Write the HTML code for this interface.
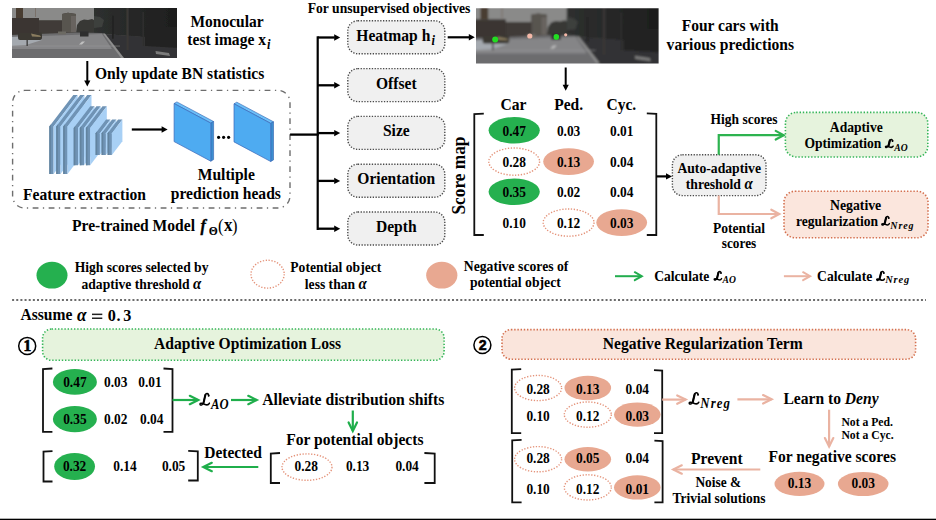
<!DOCTYPE html>
<html><head><meta charset="utf-8"><style>
html,body{margin:0;padding:0;background:#fff;overflow:hidden}
svg{display:block}
</style></head><body>
<svg width="936" height="520" viewBox="0 0 936 520" font-family='"Liberation Serif", serif'>
<rect width="936" height="520" fill="#fff"/>
<defs>
<filter id="blur" x="-5%" y="-5%" width="110%" height="110%"><feGaussianBlur stdDeviation="0.75"/></filter>
<linearGradient id="sky" x1="0" y1="0" x2="1" y2="0"><stop offset="0" stop-color="#8a8a8a"/><stop offset="0.8" stop-color="#989898"/><stop offset="1" stop-color="#8c8c8c"/></linearGradient>
<linearGradient id="road" x1="0" y1="0" x2="0" y2="1"><stop offset="0" stop-color="#78787a"/><stop offset="1" stop-color="#676769"/></linearGradient>
<linearGradient id="trees" x1="0" y1="0" x2="1" y2="0"><stop offset="0" stop-color="#2e302f"/><stop offset="1" stop-color="#1d1d1d"/></linearGradient>
<clipPath id="pc"><rect x="0" y="0" width="165" height="50"/></clipPath>
<g id="scene">
<g clip-path="url(#pc)">
<g filter="url(#blur)">
<rect x="-2" y="-2" width="170" height="55" fill="#2a2b2a"/>
<rect x="-2" y="-2" width="92" height="30" fill="#8a8a89"/>
<polygon points="-2,10 27,10 27,12.5 50,12.5 50,6 56,4.8 64,6 64,25 -2,31" fill="#3a3632"/>
<rect x="27" y="12.5" width="23" height="13" fill="#3f3b37"/>
<polygon points="50,6 56,4.8 64,6 64,24.5 50,24.5" fill="#595550"/>
<rect x="59" y="8" width="5" height="16" fill="#67635e"/>
<rect x="4" y="-2" width="7" height="12" fill="#4a3c32"/>
<rect x="23" y="-2" width="1" height="11" fill="#7a716a"/>
<polygon points="64,25 65,17 68,13 72,11.5 76,12 80,11 84,13 84,26" fill="#383836"/>
<polygon points="82,-2 167,-2 167,34 110,32 92,26 82,25" fill="url(#trees)"/>
<polygon points="82,8 88,9 92,12 90,19 82,20" fill="#3e3f3e"/>
<polygon points="-2,27 64,24.5 90,25 92,26 167,32 167,52 -2,52" fill="#6c6c6e"/>
<polygon points="28,28 90,26 100,41 -2,41 -2,33" fill="#858587"/>
<polygon points="-2,29 28,27.5 30,32 14,37 -2,38" fill="#a4a9af"/>
<polygon points="92,26 167,31 167,52 111,52" fill="#333334"/>
<polygon points="133,19 167,19 167,40 133,38" fill="#242424"/>
<polygon points="91,25.5 93,25.5 112,50 109,50" fill="#8e8e8e"/>
<polygon points="143.5,43 157,45 158,48 144,46" fill="#7a7a7a"/>
<rect x="100" y="7.7" width="1.8" height="23" fill="#242424"/>
<rect x="114.5" y="-2" width="2.2" height="44" fill="#3a3836"/>
<rect x="130.5" y="4" width="1.6" height="34" fill="#2e2e2e"/>
<rect x="6" y="24.5" width="24" height="7.5" rx="2" fill="#3a3733"/>
<polygon points="19,25.5 28,27.5 29,29 20,28.5" fill="#8a7c5e"/>
<rect x="46" y="23.5" width="8" height="3" fill="#6c6a64"/>
<rect x="68" y="23.5" width="8.5" height="5" fill="#2d2d2d"/>
<rect x="-2" y="37.6" width="110" height="0.9" fill="#9a9a9c" opacity="0.6"/>
<polygon points="70,33.6 73,33.6 70,36.5 67,36.5" fill="#c0c0c0"/>
<rect x="14.5" y="32" width="1.3" height="6" fill="#3a3a3a"/>
</g>
</g>
</g>
</defs>
<use href="#scene" transform="translate(12,8)"/>
<text x="190.5" y="26.7" font-size="15.5" text-anchor="start" font-weight="bold" font-style="normal" fill="#000"  transform="translate(0,26.7) scale(1,1.09) translate(0,-26.7)">Monocular</text>
<text x="187.3" y="45" font-size="15.6" text-anchor="start" font-weight="bold" font-style="normal" fill="#000"  transform="translate(0,45) scale(1,1.09) translate(0,-45)">test image x<tspan font-style="italic" font-size="12.5" dx="1" dy="3.4">i</tspan></text>
<line x1="87.3" y1="61" x2="87.3" y2="81.0" stroke="#000" stroke-width="2" />
<polygon points="87.30,86.50 84.20,80.50 90.40,80.50" fill="#000" />
<text x="95" y="79.5" font-size="15.6" text-anchor="start" font-weight="bold" font-style="normal" fill="#000"  transform="translate(0,79.5) scale(1,1.09) translate(0,-79.5)">Only update BN statistics</text>
<rect x="12.6" y="90.4" width="277.4" height="117.6" rx="12" ry="12" fill="none" stroke="#6e6e6e" stroke-width="1.4" stroke-dasharray="5.8 4.5 1.3 4.4"/>
<polygon points="49.30,174.00 49.30,126.40 73.30,94.96 77.60,94.96 53.60,126.40 53.60,174.00" fill="#6f93b5" />
<polygon points="49.30,174.00 49.30,126.40 50.90,124.30 50.90,174.00" fill="#62839f" />
<polygon points="53.60,174.00 53.60,126.40 77.60,94.96 77.60,142.56" fill="#a8d0f5" />
<polygon points="56.20,174.00 56.20,126.40 80.20,94.96 84.50,94.96 60.50,126.40 60.50,174.00" fill="#6f93b5" />
<polygon points="56.20,174.00 56.20,126.40 57.80,124.30 57.80,174.00" fill="#62839f" />
<polygon points="60.50,174.00 60.50,126.40 84.50,94.96 84.50,142.56" fill="#a8d0f5" />
<polygon points="63.20,174.00 63.20,126.40 87.20,94.96 91.50,94.96 67.50,126.40 67.50,174.00" fill="#6f93b5" />
<polygon points="63.20,174.00 63.20,126.40 64.80,124.30 64.80,174.00" fill="#62839f" />
<polygon points="67.50,174.00 67.50,126.40 91.50,94.96 91.50,142.56" fill="#a8d0f5" />
<polygon points="73.70,165.30 73.70,128.00 90.30,106.25 94.60,106.25 78.00,128.00 78.00,165.30" fill="#6f93b5" />
<polygon points="73.70,165.30 73.70,128.00 75.30,125.90 75.30,165.30" fill="#62839f" />
<polygon points="78.00,165.30 78.00,128.00 94.60,106.25 94.60,143.55" fill="#a8d0f5" />
<polygon points="79.80,165.30 79.80,128.00 96.40,106.25 100.70,106.25 84.10,128.00 84.10,165.30" fill="#6f93b5" />
<polygon points="79.80,165.30 79.80,128.00 81.40,125.90 81.40,165.30" fill="#62839f" />
<polygon points="84.10,165.30 84.10,128.00 100.70,106.25 100.70,143.55" fill="#a8d0f5" />
<polygon points="85.90,165.30 85.90,128.00 102.50,106.25 106.80,106.25 90.20,128.00 90.20,165.30" fill="#6f93b5" />
<polygon points="85.90,165.30 85.90,128.00 87.50,125.90 87.50,165.30" fill="#62839f" />
<polygon points="90.20,165.30 90.20,128.00 106.80,106.25 106.80,143.55" fill="#a8d0f5" />
<polygon points="95.60,155.00 95.60,133.30 106.10,119.55 110.40,119.55 99.90,133.30 99.90,155.00" fill="#6f93b5" />
<polygon points="95.60,155.00 95.60,133.30 97.20,131.20 97.20,155.00" fill="#62839f" />
<polygon points="99.90,155.00 99.90,133.30 110.40,119.55 110.40,141.25" fill="#a8d0f5" />
<polygon points="101.60,155.00 101.60,133.30 112.10,119.55 116.40,119.55 105.90,133.30 105.90,155.00" fill="#6f93b5" />
<polygon points="101.60,155.00 101.60,133.30 103.20,131.20 103.20,155.00" fill="#62839f" />
<polygon points="105.90,155.00 105.90,133.30 116.40,119.55 116.40,141.25" fill="#a8d0f5" />
<polygon points="107.60,155.00 107.60,133.30 118.10,119.55 122.40,119.55 111.90,133.30 111.90,155.00" fill="#6f93b5" />
<polygon points="107.60,155.00 107.60,133.30 109.20,131.20 109.20,155.00" fill="#62839f" />
<polygon points="111.90,155.00 111.90,133.30 122.40,119.55 122.40,141.25" fill="#a8d0f5" />
<line x1="131.8" y1="129.5" x2="162.1" y2="129.5" stroke="#000" stroke-width="2.2" />
<polygon points="167.60,129.50 161.60,132.70 161.60,126.30" fill="#000" />
<polygon points="174.10,103.50 176.90,101.90 213.60,121.50 210.80,123.10" fill="#6cc0f8" stroke="#3060b0" stroke-width="0.6"/>
<polygon points="210.80,123.10 213.60,121.50 213.60,159.60 210.80,161.20" fill="#3d8fd0" stroke="#3060b0" stroke-width="0.6"/>
<polygon points="174.10,103.50 210.80,123.10 210.80,161.20 174.10,141.60" fill="#4eabf1" stroke="#3a66b8" stroke-width="0.7"/>
<polygon points="234.00,103.80 236.80,102.20 273.50,121.80 270.70,123.40" fill="#6cc0f8" stroke="#3060b0" stroke-width="0.6"/>
<polygon points="270.70,123.40 273.50,121.80 273.50,159.90 270.70,161.50" fill="#3d8fd0" stroke="#3060b0" stroke-width="0.6"/>
<polygon points="234.00,103.80 270.70,123.40 270.70,161.50 234.00,141.90" fill="#4eabf1" stroke="#3a66b8" stroke-width="0.7"/>
<circle cx="218.6" cy="137.3" r="1.6" fill="#000"/>
<circle cx="223.6" cy="137.3" r="1.6" fill="#000"/>
<circle cx="228.6" cy="137.3" r="1.6" fill="#000"/>
<text x="197.7" y="180.5" font-size="15.6" text-anchor="start" font-weight="bold" font-style="normal" fill="#000"  transform="translate(0,180.5) scale(1,1.09) translate(0,-180.5)">Multiple</text>
<text x="170.8" y="199" font-size="15.6" text-anchor="start" font-weight="bold" font-style="normal" fill="#000"  transform="translate(0,199) scale(1,1.09) translate(0,-199)">prediction heads</text>
<text x="23" y="200" font-size="15.6" text-anchor="start" font-weight="bold" font-style="normal" fill="#000"  transform="translate(0,200) scale(1,1.09) translate(0,-200)">Feature extraction</text>
<text x="72" y="231" font-size="15.6" text-anchor="start" font-weight="bold" font-style="normal" fill="#000"  transform="translate(0,231) scale(1,1.09) translate(0,-231)">Pre-trained Model</text>
<text x="200.5" y="231" font-size="16" text-anchor="start" font-weight="bold" font-style="italic" fill="#000" stroke="#000" stroke-width="0.35" transform="translate(0,231) scale(1,1.09) translate(0,-231)">f</text>
<text x="208.8" y="234.9" font-size="11.6" text-anchor="start" font-weight="bold" font-style="normal" fill="#000"  transform="translate(0,234.9) scale(1,1.09) translate(0,-234.9)">Θ</text>
<text x="218" y="232" font-size="16.5" text-anchor="start" font-weight="normal" font-style="normal" fill="#000"  transform="translate(0,232) scale(1,1.09) translate(0,-232)">(</text>
<text x="224" y="231" font-size="17" text-anchor="start" font-weight="bold" font-style="normal" fill="#000"  transform="translate(0,231) scale(1,1.09) translate(0,-231)">x</text>
<text x="232" y="232" font-size="16.5" text-anchor="start" font-weight="normal" font-style="normal" fill="#000"  transform="translate(0,232) scale(1,1.09) translate(0,-232)">)</text>
<line x1="290.1" y1="134.6" x2="318.8" y2="134.6" stroke="#000" stroke-width="2.3" />
<line x1="317.7" y1="36.3" x2="317.7" y2="230" stroke="#000" stroke-width="2.2" />
<line x1="317.7" y1="37.5" x2="334.7" y2="37.5" stroke="#000" stroke-width="2.3" />
<polygon points="340.20,37.50 334.20,40.70 334.20,34.30" fill="#000" />
<line x1="317.7" y1="85.3" x2="334.7" y2="85.3" stroke="#000" stroke-width="2.3" />
<polygon points="340.20,85.30 334.20,88.50 334.20,82.10" fill="#000" />
<line x1="317.7" y1="133.1" x2="334.7" y2="133.1" stroke="#000" stroke-width="2.3" />
<polygon points="340.20,133.10 334.20,136.30 334.20,129.90" fill="#000" />
<line x1="317.7" y1="180.89999999999998" x2="334.7" y2="180.89999999999998" stroke="#000" stroke-width="2.3" />
<polygon points="340.20,180.90 334.20,184.10 334.20,177.70" fill="#000" />
<line x1="317.7" y1="228.7" x2="334.7" y2="228.7" stroke="#000" stroke-width="2.3" />
<polygon points="340.20,228.70 334.20,231.90 334.20,225.50" fill="#000" />
<text x="307.7" y="13" font-size="13.65" text-anchor="start" font-weight="bold" font-style="normal" fill="#000"  transform="translate(0,13) scale(1,1.09) translate(0,-13)">For unsupervised objectives</text>
<rect x="347.8" y="20.8" width="97" height="33" rx="10" ry="10" fill="#f0f0f0" stroke="#4a4a4a" stroke-width="1.4" stroke-dasharray="1.3 1.5"/>
<text x="356.3" y="40.8" font-size="15.6" text-anchor="start" font-weight="bold" font-style="normal" fill="#000"  transform="translate(0,40.8) scale(1,1.09) translate(0,-40.8)">Heatmap h<tspan font-style="italic" font-size="12.5" dx="1.2" dy="3.6">i</tspan></text>
<rect x="347.8" y="68.6" width="97" height="33" rx="10" ry="10" fill="#f0f0f0" stroke="#4a4a4a" stroke-width="1.4" stroke-dasharray="1.3 1.5"/>
<text x="396.3" y="88.6" font-size="15.6" text-anchor="middle" font-weight="bold" font-style="normal" fill="#000"  transform="translate(0,88.6) scale(1,1.09) translate(0,-88.6)">Offset</text>
<rect x="347.8" y="116.39999999999999" width="97" height="33" rx="10" ry="10" fill="#f0f0f0" stroke="#4a4a4a" stroke-width="1.4" stroke-dasharray="1.3 1.5"/>
<text x="396.3" y="136.39999999999998" font-size="15.6" text-anchor="middle" font-weight="bold" font-style="normal" fill="#000"  transform="translate(0,136.39999999999998) scale(1,1.09) translate(0,-136.39999999999998)">Size</text>
<rect x="347.8" y="164.2" width="97" height="33" rx="10" ry="10" fill="#f0f0f0" stroke="#4a4a4a" stroke-width="1.4" stroke-dasharray="1.3 1.5"/>
<text x="396.3" y="184.2" font-size="15.6" text-anchor="middle" font-weight="bold" font-style="normal" fill="#000"  transform="translate(0,184.2) scale(1,1.09) translate(0,-184.2)">Orientation</text>
<rect x="347.8" y="212.0" width="97" height="33" rx="10" ry="10" fill="#f0f0f0" stroke="#4a4a4a" stroke-width="1.4" stroke-dasharray="1.3 1.5"/>
<text x="396.3" y="232.0" font-size="15.6" text-anchor="middle" font-weight="bold" font-style="normal" fill="#000"  transform="translate(0,232.0) scale(1,1.09) translate(0,-232.0)">Depth</text>
<line x1="447.7" y1="37.3" x2="469.3" y2="37.3" stroke="#000" stroke-width="2.2" />
<polygon points="474.80,37.30 468.80,40.50 468.80,34.10" fill="#000" />
<use href="#scene" transform="translate(476,8.2) scale(1.1067)"/>
<circle cx="495.2" cy="39.5" r="3" fill="#22dd22"/>
<circle cx="556.3" cy="36.9" r="2.8" fill="#22dd22"/>
<circle cx="529.8" cy="36" r="2.6" fill="#f4b8a8"/>
<circle cx="565.7" cy="34.8" r="1.6" fill="#f4b8a8"/>
<line x1="565.7" y1="67.5" x2="565.7" y2="85.3" stroke="#000" stroke-width="2" />
<polygon points="565.70,90.80 562.60,84.80 568.80,84.80" fill="#000" />
<text x="730.2" y="31.2" font-size="15.5" text-anchor="middle" font-weight="bold" font-style="normal" fill="#000"  transform="translate(0,31.2) scale(1,1.09) translate(0,-31.2)">Four cars with</text>
<text x="730.3" y="50" font-size="15.6" text-anchor="middle" font-weight="bold" font-style="normal" fill="#000"  transform="translate(0,50) scale(1,1.09) translate(0,-50)">various predictions</text>
<text x="465.4" y="214.5" font-size="17.6" text-anchor="start" font-weight="bold" font-style="normal" fill="#000" textLength="78" lengthAdjust="spacingAndGlyphs" transform="rotate(-90 465.4 214.5) translate(0,214.5) scale(1,1.09) translate(0,-214.5)">Score map</text>
<path d="M483.8,113.6 L474.3,114.1 L474.3,235 L483.8,235" fill="none" stroke="#111" stroke-width="1.8"/>
<path d="M646.8,113.4 L656.3,113.9 L656.3,235 L646.8,235" fill="none" stroke="#111" stroke-width="1.8"/>
<text x="513.5" y="109.9" font-size="15.6" text-anchor="middle" font-weight="bold" font-style="normal" fill="#000"  transform="translate(0,109.9) scale(1,1.09) translate(0,-109.9)">Car</text>
<text x="568.6" y="109.7" font-size="15.5" text-anchor="middle" font-weight="bold" font-style="normal" fill="#000"  transform="translate(0,109.7) scale(1,1.09) translate(0,-109.7)">Ped.</text>
<text x="621.3" y="109.7" font-size="15.5" text-anchor="middle" font-weight="bold" font-style="normal" fill="#000"  transform="translate(0,109.7) scale(1,1.09) translate(0,-109.7)">Cyc.</text>
<ellipse cx="514.2" cy="130.3" rx="25.6" ry="13.3" fill="#25b04f"/>
<text x="514.2" y="136.0" font-size="13.4" text-anchor="middle" font-weight="bold" font-style="normal" fill="#000"  transform="translate(0,136.0) scale(1,1.09) translate(0,-136.0)">0.47</text>
<text x="568.6" y="136.0" font-size="13.4" text-anchor="middle" font-weight="bold" font-style="normal" fill="#000"  transform="translate(0,136.0) scale(1,1.09) translate(0,-136.0)">0.03</text>
<text x="621.7" y="136.0" font-size="13.4" text-anchor="middle" font-weight="bold" font-style="normal" fill="#000"  transform="translate(0,136.0) scale(1,1.09) translate(0,-136.0)">0.01</text>
<ellipse cx="514.2" cy="161.6" rx="25.4" ry="13.6" fill="none" stroke="#e4937a" stroke-width="1.4" stroke-dasharray="1.3 1.6"/>
<text x="514.2" y="167.29999999999998" font-size="13.4" text-anchor="middle" font-weight="bold" font-style="normal" fill="#000"  transform="translate(0,167.29999999999998) scale(1,1.09) translate(0,-167.29999999999998)">0.28</text>
<ellipse cx="568.6" cy="161.6" rx="25.4" ry="13.4" fill="#e8a891"/>
<text x="568.6" y="167.29999999999998" font-size="13.4" text-anchor="middle" font-weight="bold" font-style="normal" fill="#000"  transform="translate(0,167.29999999999998) scale(1,1.09) translate(0,-167.29999999999998)">0.13</text>
<text x="621.7" y="167.29999999999998" font-size="13.4" text-anchor="middle" font-weight="bold" font-style="normal" fill="#000"  transform="translate(0,167.29999999999998) scale(1,1.09) translate(0,-167.29999999999998)">0.04</text>
<ellipse cx="514.2" cy="191.8" rx="25.6" ry="13.3" fill="#25b04f"/>
<text x="514.2" y="197.5" font-size="13.4" text-anchor="middle" font-weight="bold" font-style="normal" fill="#000"  transform="translate(0,197.5) scale(1,1.09) translate(0,-197.5)">0.35</text>
<text x="568.6" y="197.5" font-size="13.4" text-anchor="middle" font-weight="bold" font-style="normal" fill="#000"  transform="translate(0,197.5) scale(1,1.09) translate(0,-197.5)">0.02</text>
<text x="621.7" y="197.5" font-size="13.4" text-anchor="middle" font-weight="bold" font-style="normal" fill="#000"  transform="translate(0,197.5) scale(1,1.09) translate(0,-197.5)">0.04</text>
<text x="514.2" y="228.29999999999998" font-size="13.4" text-anchor="middle" font-weight="bold" font-style="normal" fill="#000"  transform="translate(0,228.29999999999998) scale(1,1.09) translate(0,-228.29999999999998)">0.10</text>
<ellipse cx="568.6" cy="222.6" rx="25.4" ry="13.6" fill="none" stroke="#e4937a" stroke-width="1.4" stroke-dasharray="1.3 1.6"/>
<text x="568.6" y="228.29999999999998" font-size="13.4" text-anchor="middle" font-weight="bold" font-style="normal" fill="#000"  transform="translate(0,228.29999999999998) scale(1,1.09) translate(0,-228.29999999999998)">0.12</text>
<ellipse cx="621.7" cy="222.6" rx="25.4" ry="13.4" fill="#e8a891"/>
<text x="621.7" y="228.29999999999998" font-size="13.4" text-anchor="middle" font-weight="bold" font-style="normal" fill="#000"  transform="translate(0,228.29999999999998) scale(1,1.09) translate(0,-228.29999999999998)">0.03</text>
<line x1="656.3" y1="176.4" x2="666.5" y2="176.4" stroke="#000" stroke-width="2.2" />
<polygon points="672.00,176.40 666.00,179.60 666.00,173.20" fill="#000" />
<rect x="672.4" y="154.8" width="93.6" height="40.8" rx="10" ry="10" fill="#f0f0f0" stroke="#4a4a4a" stroke-width="1.4" stroke-dasharray="1.3 1.5"/>
<text x="719.2" y="172.6" font-size="13.7" text-anchor="middle" font-weight="bold" font-style="normal" fill="#000"  transform="translate(0,172.6) scale(1,1.09) translate(0,-172.6)">Auto-adaptive</text>
<text x="719.2" y="188.6" font-size="13.7" text-anchor="middle" font-weight="bold" font-style="normal" fill="#000"  transform="translate(0,188.6) scale(1,1.09) translate(0,-188.6)">threshold <tspan font-style="italic" font-size="15">α</tspan></text>
<path d="M718.75,154.8 L718.75,135.2 L783.7,135.2" fill="none" stroke="#2db34f" stroke-width="2.2"/>
<path d="M775.70,139.50 L783.7,135.2 L775.70,130.90" fill="none" stroke="#2db34f" stroke-width="2.2" stroke-linecap="round" stroke-linejoin="miter"/>
<path d="M718.75,195.6 L718.75,214 L779.3,214" fill="none" stroke="#eab3a2" stroke-width="2.2"/>
<path d="M771.30,218.30 L779.3,214 L771.30,209.70" fill="none" stroke="#eab3a2" stroke-width="2.2" stroke-linecap="round" stroke-linejoin="miter"/>
<text x="744" y="124.5" font-size="13.5" text-anchor="middle" font-weight="bold" font-style="normal" fill="#000"  transform="translate(0,124.5) scale(1,1.09) translate(0,-124.5)">High scores</text>
<text x="739" y="233.3" font-size="13.6" text-anchor="middle" font-weight="bold" font-style="normal" fill="#000"  transform="translate(0,233.3) scale(1,1.09) translate(0,-233.3)">Potential</text>
<text x="739" y="247.7" font-size="13.3" text-anchor="middle" font-weight="bold" font-style="normal" fill="#000"  transform="translate(0,247.7) scale(1,1.09) translate(0,-247.7)">scores</text>
<rect x="785.4" y="112.4" width="142.4" height="44.6" rx="11" ry="11" fill="#e6f3dd" stroke="#35b558" stroke-width="1.6" stroke-dasharray="1.4 1.8"/>
<text x="856.3" y="131.7" font-size="13.6" text-anchor="middle" font-weight="bold" font-style="normal" fill="#000"  transform="translate(0,131.7) scale(1,1.09) translate(0,-131.7)">Adaptive</text>
<text x="804.4" y="148.5" font-size="13.6" text-anchor="start" font-weight="bold" font-style="normal" fill="#000"  transform="translate(0,148.5) scale(1,1.09) translate(0,-148.5)">Optimization</text>
<rect x="784" y="191.2" width="144" height="46.6" rx="11" ry="11" fill="#fbe6dd" stroke="#d4704f" stroke-width="1.6" stroke-dasharray="1.4 1.8"/>
<text x="855.6" y="210.5" font-size="13.8" text-anchor="middle" font-weight="bold" font-style="normal" fill="#000"  transform="translate(0,210.5) scale(1,1.09) translate(0,-210.5)">Negative</text>
<text x="796" y="226.1" font-size="13.6" text-anchor="start" font-weight="bold" font-style="normal" fill="#000"  transform="translate(0,226.1) scale(1,1.09) translate(0,-226.1)">regularization</text>
<g transform="translate(885.03,139.07) scale(0.0829,0.0831)" fill="none" stroke="#000" stroke-linecap="round" stroke-linejoin="round"><path d="M92,22 C90,4 66,-2 58,18 C52,34 48,60 40,82 C34,100 8,108 6,94 C4,82 28,84 50,94 C68,102 86,106 98,86" stroke-width="18.1"/><path d="M59,17 C53,34 48,60 41,82" stroke-width="26.5"/><circle cx="90" cy="23" r="11.0" fill="#000" stroke="none"/></g>
<text x="894.3" y="150.6" font-size="9.6" text-anchor="start" font-weight="bold" font-style="italic" fill="#000"  transform="translate(0,150.6) scale(1,1.09) translate(0,-150.6)">AO</text>
<g transform="translate(881.33,216.07) scale(0.0819,0.0886)" fill="none" stroke="#000" stroke-linecap="round" stroke-linejoin="round"><path d="M92,22 C90,4 66,-2 58,18 C52,34 48,60 40,82 C34,100 8,108 6,94 C4,82 28,84 50,94 C68,102 86,106 98,86" stroke-width="17.6"/><path d="M59,17 C53,34 48,60 41,82" stroke-width="25.8"/><circle cx="90" cy="23" r="10.8" fill="#000" stroke="none"/></g>
<text x="890.3" y="228.8" font-size="10" text-anchor="start" font-weight="bold" font-style="italic" fill="#000" letter-spacing="0.9" transform="translate(0,228.8) scale(1,1.09) translate(0,-228.8)">Nreg</text>
<ellipse cx="52" cy="275.2" rx="15.5" ry="13.4" fill="#25b04f"/>
<text x="141.6" y="272.1" font-size="13.6" text-anchor="middle" font-weight="bold" font-style="normal" fill="#000"  transform="translate(0,272.1) scale(1,1.09) translate(0,-272.1)">High scores selected by</text>
<text x="141.4" y="288.6" font-size="13.6" text-anchor="middle" font-weight="bold" font-style="normal" fill="#000"  transform="translate(0,288.6) scale(1,1.09) translate(0,-288.6)">adaptive threshold <tspan font-style="italic" font-size="15">α</tspan></text>
<ellipse cx="267.6" cy="274.2" rx="16.6" ry="13.9" fill="none" stroke="#e4937a" stroke-width="1.4" stroke-dasharray="1.3 1.6"/>
<text x="335.8" y="272" font-size="13.6" text-anchor="middle" font-weight="bold" font-style="normal" fill="#000"  transform="translate(0,272) scale(1,1.09) translate(0,-272)">Potential object</text>
<text x="335.8" y="288.6" font-size="13.6" text-anchor="middle" font-weight="bold" font-style="normal" fill="#000"  transform="translate(0,288.6) scale(1,1.09) translate(0,-288.6)">less than <tspan font-style="italic" font-size="15">α</tspan></text>
<ellipse cx="441.8" cy="275.2" rx="15.6" ry="13.4" fill="#e8a891"/>
<text x="516.1" y="270.8" font-size="13.7" text-anchor="middle" font-weight="bold" font-style="normal" fill="#000"  transform="translate(0,270.8) scale(1,1.09) translate(0,-270.8)">Negative scores of</text>
<text x="515.4" y="286.9" font-size="13.7" text-anchor="middle" font-weight="bold" font-style="normal" fill="#000"  transform="translate(0,286.9) scale(1,1.09) translate(0,-286.9)">potential object</text>
<path d="M615,276.2 L641.8,276.2" fill="none" stroke="#22ad4e" stroke-width="2"/>
<path d="M634.80,280.20 L641.8,276.2 L634.80,272.20" fill="none" stroke="#22ad4e" stroke-width="2" stroke-linecap="round" stroke-linejoin="miter"/>
<text x="654.2" y="281" font-size="13.6" text-anchor="start" font-weight="bold" font-style="normal" fill="#000"  transform="translate(0,281) scale(1,1.09) translate(0,-281)">Calculate</text>
<g transform="translate(713.73,271.07) scale(0.0800,0.0886)" fill="none" stroke="#000" stroke-linecap="round" stroke-linejoin="round"><path d="M92,22 C90,4 66,-2 58,18 C52,34 48,60 40,82 C34,100 8,108 6,94 C4,82 28,84 50,94 C68,102 86,106 98,86" stroke-width="17.8"/><path d="M59,17 C53,34 48,60 41,82" stroke-width="26.1"/><circle cx="90" cy="23" r="10.9" fill="#000" stroke="none"/></g>
<text x="722.6" y="283.5" font-size="9.6" text-anchor="start" font-weight="bold" font-style="italic" fill="#000"  transform="translate(0,283.5) scale(1,1.09) translate(0,-283.5)">AO</text>
<path d="M783.9,276.2 L810.1,276.2" fill="none" stroke="#eab3a2" stroke-width="2"/>
<path d="M803.10,280.20 L810.1,276.2 L803.10,272.20" fill="none" stroke="#eab3a2" stroke-width="2" stroke-linecap="round" stroke-linejoin="miter"/>
<text x="817.1" y="281" font-size="13.6" text-anchor="start" font-weight="bold" font-style="normal" fill="#000"  transform="translate(0,281) scale(1,1.09) translate(0,-281)">Calculate</text>
<g transform="translate(876.23,270.97) scale(0.0838,0.0933)" fill="none" stroke="#000" stroke-linecap="round" stroke-linejoin="round"><path d="M92,22 C90,4 66,-2 58,18 C52,34 48,60 40,82 C34,100 8,108 6,94 C4,82 28,84 50,94 C68,102 86,106 98,86" stroke-width="16.9"/><path d="M59,17 C53,34 48,60 41,82" stroke-width="24.8"/><circle cx="90" cy="23" r="10.5" fill="#000" stroke="none"/></g>
<text x="885.2" y="283.4" font-size="10.4" text-anchor="start" font-weight="bold" font-style="italic" fill="#000" letter-spacing="0.9" transform="translate(0,283.4) scale(1,1.09) translate(0,-283.4)">Nreg</text>
<line x1="12.1" y1="300" x2="926" y2="300" stroke="#6c6c6c" stroke-width="2" stroke-dasharray="2 2.15"/>
<text x="20.5" y="320.5" font-size="15.6" text-anchor="start" font-weight="bold" font-style="normal" fill="#000"  transform="translate(0,320.5) scale(1,1.09) translate(0,-320.5)">Assume</text>
<text x="77" y="320.8" font-size="17.2" text-anchor="start" font-weight="bold" font-style="italic" fill="#000"  transform="translate(0,320.8) scale(1,1.09) translate(0,-320.8)">α</text>
<rect x="92" y="313.6" width="10.3" height="1.5" fill="#222"/><rect x="92" y="317.5" width="10.3" height="1.5" fill="#222"/>
<text x="107.8" y="321" font-size="16.2" text-anchor="start" font-weight="bold" font-style="normal" fill="#000"  transform="translate(0,321) scale(1,1.09) translate(0,-321)">0</text>
<text x="116.6" y="321" font-size="16.2" text-anchor="start" font-weight="bold" font-style="normal" fill="#000"  transform="translate(0,321) scale(1,1.09) translate(0,-321)">.</text>
<text x="123.2" y="321" font-size="16.2" text-anchor="start" font-weight="bold" font-style="normal" fill="#000"  transform="translate(0,321) scale(1,1.09) translate(0,-321)">3</text>
<circle cx="27.2" cy="345.9" r="8.5" fill="none" stroke="#000" stroke-width="1.5"/>
<text x="27.4" y="350.6" font-size="15.6" text-anchor="middle" font-weight="bold" font-style="normal" fill="#000" stroke="#000" stroke-width="0.6" transform="translate(0,350.6) scale(1,1.09) translate(0,-350.6)">1</text>
<rect x="42.6" y="329" width="401.5" height="31.3" rx="9" ry="9" fill="#e6f3dd" stroke="#35b558" stroke-width="1.6" stroke-dasharray="1.4 1.8"/>
<text x="247.6" y="349.5" font-size="15.6" text-anchor="middle" font-weight="bold" font-style="normal" fill="#000"  transform="translate(0,349.5) scale(1,1.09) translate(0,-349.5)">Adaptive Optimization Loss</text>
<path d="M52.4,368.5 L43,369.0 L43,431.8 L52.4,431.8" fill="none" stroke="#111" stroke-width="1.8"/>
<path d="M163.5,368.5 L172.5,369.0 L172.5,431.8 L163.5,431.8" fill="none" stroke="#111" stroke-width="1.8"/>
<ellipse cx="74.9" cy="381.9" rx="22" ry="12.9" fill="#25b04f"/>
<text x="74.9" y="387.4" font-size="13.4" text-anchor="middle" font-weight="bold" font-style="normal" fill="#000"  transform="translate(0,387.4) scale(1,1.09) translate(0,-387.4)">0.47</text>
<text x="115.8" y="387.4" font-size="13.4" text-anchor="middle" font-weight="bold" font-style="normal" fill="#000"  transform="translate(0,387.4) scale(1,1.09) translate(0,-387.4)">0.03</text>
<text x="150" y="387.4" font-size="13.4" text-anchor="middle" font-weight="bold" font-style="normal" fill="#000"  transform="translate(0,387.4) scale(1,1.09) translate(0,-387.4)">0.01</text>
<ellipse cx="74.9" cy="419.1" rx="22" ry="13.1" fill="#25b04f"/>
<text x="74.9" y="424.5" font-size="13.4" text-anchor="middle" font-weight="bold" font-style="normal" fill="#000"  transform="translate(0,424.5) scale(1,1.09) translate(0,-424.5)">0.35</text>
<text x="115.8" y="424.5" font-size="13.4" text-anchor="middle" font-weight="bold" font-style="normal" fill="#000"  transform="translate(0,424.5) scale(1,1.09) translate(0,-424.5)">0.02</text>
<text x="151.7" y="424.5" font-size="13.4" text-anchor="middle" font-weight="bold" font-style="normal" fill="#000"  transform="translate(0,424.5) scale(1,1.09) translate(0,-424.5)">0.04</text>
<path d="M172.5,400 L198.3,400" fill="none" stroke="#1fae4b" stroke-width="2.2"/>
<path d="M189.80,404.20 L198.3,400 L189.80,395.80" fill="none" stroke="#1fae4b" stroke-width="2.2" stroke-linecap="round" stroke-linejoin="miter"/>
<g transform="translate(199.34,392.90) scale(0.1029,0.1200)" fill="none" stroke="#000" stroke-linecap="round" stroke-linejoin="round"><path d="M92,22 C90,4 66,-2 58,18 C52,34 48,60 40,82 C34,100 8,108 6,94 C4,82 28,84 50,94 C68,102 86,106 98,86" stroke-width="13.5"/><path d="M59,17 C53,34 48,60 41,82" stroke-width="19.7"/><circle cx="90" cy="23" r="8.7" fill="#000" stroke="none"/></g>
<text x="211" y="409" font-size="12.6" text-anchor="start" font-weight="bold" font-style="italic" fill="#000"  transform="translate(0,409) scale(1,1.09) translate(0,-409)">AO</text>
<path d="M231,400 L256.8,400" fill="none" stroke="#1fae4b" stroke-width="2.2"/>
<path d="M248.30,404.20 L256.8,400 L248.30,395.80" fill="none" stroke="#1fae4b" stroke-width="2.2" stroke-linecap="round" stroke-linejoin="miter"/>
<text x="262.3" y="404.6" font-size="15.7" text-anchor="start" font-weight="bold" font-style="normal" fill="#000"  transform="translate(0,404.6) scale(1,1.09) translate(0,-404.6)">Alleviate distribution shifts</text>
<path d="M352.8,410.5 L352.8,431" fill="none" stroke="#1fae4b" stroke-width="2.2"/>
<path d="M348.60,422.50 L352.8,431 L357.00,422.50" fill="none" stroke="#1fae4b" stroke-width="2.2" stroke-linecap="round" stroke-linejoin="miter"/>
<text x="286.2" y="444.9" font-size="15.6" text-anchor="start" font-weight="bold" font-style="normal" fill="#000"  transform="translate(0,444.9) scale(1,1.09) translate(0,-444.9)">For potential objects</text>
<path d="M52.5,451.2 L43.5,451.7 L43.5,481.5 L52.5,481.5" fill="none" stroke="#111" stroke-width="1.8"/>
<path d="M188.20000000000002,450.8 L197.8,451.3 L197.8,480.5 L188.20000000000002,480.5" fill="none" stroke="#111" stroke-width="1.8"/>
<ellipse cx="74.6" cy="466.5" rx="20.4" ry="13.5" fill="#25b04f"/>
<text x="74.6" y="471.2" font-size="13.4" text-anchor="middle" font-weight="bold" font-style="normal" fill="#000"  transform="translate(0,471.2) scale(1,1.09) translate(0,-471.2)">0.32</text>
<text x="125" y="471.2" font-size="13.4" text-anchor="middle" font-weight="bold" font-style="normal" fill="#000"  transform="translate(0,471.2) scale(1,1.09) translate(0,-471.2)">0.14</text>
<text x="173.6" y="471.2" font-size="13.4" text-anchor="middle" font-weight="bold" font-style="normal" fill="#000"  transform="translate(0,471.2) scale(1,1.09) translate(0,-471.2)">0.05</text>
<path d="M258.3,467 L203.3,467" fill="none" stroke="#1fae4b" stroke-width="2.2"/>
<path d="M211.80,462.80 L203.3,467 L211.80,471.20" fill="none" stroke="#1fae4b" stroke-width="2.2" stroke-linecap="round" stroke-linejoin="miter"/>
<text x="204.2" y="458" font-size="15.5" text-anchor="start" font-weight="bold" font-style="normal" fill="#000"  transform="translate(0,458) scale(1,1.09) translate(0,-458)">Detected</text>
<path d="M280.0,453 L270.8,453.5 L270.8,483 L280.0,483" fill="none" stroke="#111" stroke-width="1.8"/>
<path d="M424.4,453 L434.7,453.5 L434.7,483 L424.4,483" fill="none" stroke="#111" stroke-width="1.8"/>
<ellipse cx="307" cy="467.1" rx="25" ry="13.2" fill="none" stroke="#e4937a" stroke-width="1.4" stroke-dasharray="1.3 1.6"/>
<text x="306.2" y="471.1" font-size="13.4" text-anchor="middle" font-weight="bold" font-style="normal" fill="#000"  transform="translate(0,471.1) scale(1,1.09) translate(0,-471.1)">0.28</text>
<text x="357.6" y="471.1" font-size="13.4" text-anchor="middle" font-weight="bold" font-style="normal" fill="#000"  transform="translate(0,471.1) scale(1,1.09) translate(0,-471.1)">0.13</text>
<text x="407.1" y="471.1" font-size="13.4" text-anchor="middle" font-weight="bold" font-style="normal" fill="#000"  transform="translate(0,471.1) scale(1,1.09) translate(0,-471.1)">0.04</text>
<circle cx="482.4" cy="345" r="8.5" fill="none" stroke="#000" stroke-width="1.5"/>
<text x="482.6" y="350.2" font-size="14.2" text-anchor="middle" font-weight="bold" font-style="normal" fill="#000" font-family="Liberation Sans" stroke="#000" stroke-width="0.5" transform="translate(0,350.2) scale(1,1.09) translate(0,-350.2)">2</text>
<rect x="502" y="329.6" width="413.6" height="29.6" rx="9" ry="9" fill="#fae5dc" stroke="#d4704f" stroke-width="1.6" stroke-dasharray="1.4 1.8"/>
<text x="702.8" y="349.5" font-size="15.6" text-anchor="middle" font-weight="bold" font-style="normal" fill="#000"  transform="translate(0,349.5) scale(1,1.09) translate(0,-349.5)">Negative Regularization Term</text>
<path d="M521.2,369.2 L511.8,369.7 L511.8,433.2 L521.2,433.2" fill="none" stroke="#111" stroke-width="1.8"/>
<path d="M654.0,370.2 L662.2,370.7 L662.2,433.2 L654.0,433.2" fill="none" stroke="#111" stroke-width="1.8"/>
<ellipse cx="538.1" cy="388" rx="23.5" ry="12.6" fill="none" stroke="#e4937a" stroke-width="1.4" stroke-dasharray="1.3 1.6"/>
<text x="538.1" y="394.2" font-size="13.4" text-anchor="middle" font-weight="bold" font-style="normal" fill="#000"  transform="translate(0,394.2) scale(1,1.09) translate(0,-394.2)">0.28</text>
<ellipse cx="587.8" cy="388" rx="23.3" ry="12.2" fill="#e8a891"/>
<text x="587.8" y="394.2" font-size="13.4" text-anchor="middle" font-weight="bold" font-style="normal" fill="#000"  transform="translate(0,394.2) scale(1,1.09) translate(0,-394.2)">0.13</text>
<text x="637.3" y="394.2" font-size="13.4" text-anchor="middle" font-weight="bold" font-style="normal" fill="#000"  transform="translate(0,394.2) scale(1,1.09) translate(0,-394.2)">0.04</text>
<text x="538.1" y="421.4" font-size="13.4" text-anchor="middle" font-weight="bold" font-style="normal" fill="#000"  transform="translate(0,421.4) scale(1,1.09) translate(0,-421.4)">0.10</text>
<ellipse cx="587.8" cy="414.6" rx="23.5" ry="12.6" fill="none" stroke="#e4937a" stroke-width="1.4" stroke-dasharray="1.3 1.6"/>
<text x="587.8" y="421.4" font-size="13.4" text-anchor="middle" font-weight="bold" font-style="normal" fill="#000"  transform="translate(0,421.4) scale(1,1.09) translate(0,-421.4)">0.12</text>
<ellipse cx="637.3" cy="414.6" rx="23.3" ry="12.2" fill="#e8a891"/>
<text x="637.3" y="421.4" font-size="13.4" text-anchor="middle" font-weight="bold" font-style="normal" fill="#000"  transform="translate(0,421.4) scale(1,1.09) translate(0,-421.4)">0.03</text>
<path d="M662.2,399.6 L685.7,399.6" fill="none" stroke="#eab3a2" stroke-width="2.2"/>
<path d="M677.20,403.80 L685.7,399.6 L677.20,395.40" fill="none" stroke="#eab3a2" stroke-width="2.2" stroke-linecap="round" stroke-linejoin="miter"/>
<g transform="translate(688.54,392.09) scale(0.1048,0.1182)" fill="none" stroke="#000" stroke-linecap="round" stroke-linejoin="round"><path d="M92,22 C90,4 66,-2 58,18 C52,34 48,60 40,82 C34,100 8,108 6,94 C4,82 28,84 50,94 C68,102 86,106 98,86" stroke-width="13.5"/><path d="M59,17 C53,34 48,60 41,82" stroke-width="19.7"/><circle cx="90" cy="23" r="8.7" fill="#000" stroke="none"/></g>
<text x="700.3" y="407.7" font-size="12.8" text-anchor="start" font-weight="bold" font-style="italic" fill="#000" letter-spacing="1.1" transform="translate(0,407.7) scale(1,1.09) translate(0,-407.7)">Nreg</text>
<path d="M737.4,399.3 L771.6,399.3" fill="none" stroke="#eab3a2" stroke-width="2.2"/>
<path d="M763.10,403.50 L771.6,399.3 L763.10,395.10" fill="none" stroke="#eab3a2" stroke-width="2.2" stroke-linecap="round" stroke-linejoin="miter"/>
<text x="783.4" y="404.2" font-size="15.6" text-anchor="start" font-weight="bold" font-style="normal" fill="#000"  transform="translate(0,404.2) scale(1,1.09) translate(0,-404.2)">Learn to <tspan font-style="italic">Deny</tspan></text>
<path d="M829.1,409.7 L829.1,446.6" fill="none" stroke="#eab3a2" stroke-width="2.2"/>
<path d="M824.90,438.10 L829.1,446.6 L833.30,438.10" fill="none" stroke="#eab3a2" stroke-width="2.2" stroke-linecap="round" stroke-linejoin="miter"/>
<text x="841.4" y="425.9" font-size="11.7" text-anchor="start" font-weight="bold" font-style="normal" fill="#000"  transform="translate(0,425.9) scale(1,1.09) translate(0,-425.9)">Not a Ped.</text>
<text x="841.4" y="439" font-size="11.7" text-anchor="start" font-weight="bold" font-style="normal" fill="#000"  transform="translate(0,439) scale(1,1.09) translate(0,-439)">Not a Cyc.</text>
<path d="M521.6,439.9 L512.2,440.4 L512.2,502.4 L521.6,502.4" fill="none" stroke="#111" stroke-width="1.8"/>
<path d="M654.4,440.6 L662.6,441.1 L662.6,502.4 L654.4,502.4" fill="none" stroke="#111" stroke-width="1.8"/>
<ellipse cx="538.1" cy="459.2" rx="23.5" ry="12.6" fill="none" stroke="#e4937a" stroke-width="1.4" stroke-dasharray="1.3 1.6"/>
<text x="538.1" y="463.4" font-size="13.4" text-anchor="middle" font-weight="bold" font-style="normal" fill="#000"  transform="translate(0,463.4) scale(1,1.09) translate(0,-463.4)">0.28</text>
<ellipse cx="587.8" cy="459.2" rx="23.3" ry="12.2" fill="#e8a891"/>
<text x="587.8" y="463.4" font-size="13.4" text-anchor="middle" font-weight="bold" font-style="normal" fill="#000"  transform="translate(0,463.4) scale(1,1.09) translate(0,-463.4)">0.05</text>
<text x="637.3" y="463.4" font-size="13.4" text-anchor="middle" font-weight="bold" font-style="normal" fill="#000"  transform="translate(0,463.4) scale(1,1.09) translate(0,-463.4)">0.04</text>
<text x="538.1" y="494.0" font-size="13.4" text-anchor="middle" font-weight="bold" font-style="normal" fill="#000"  transform="translate(0,494.0) scale(1,1.09) translate(0,-494.0)">0.10</text>
<ellipse cx="587.8" cy="487.4" rx="23.5" ry="12.6" fill="none" stroke="#e4937a" stroke-width="1.4" stroke-dasharray="1.3 1.6"/>
<text x="587.8" y="494.0" font-size="13.4" text-anchor="middle" font-weight="bold" font-style="normal" fill="#000"  transform="translate(0,494.0) scale(1,1.09) translate(0,-494.0)">0.12</text>
<ellipse cx="637.3" cy="487.4" rx="23.3" ry="12.2" fill="#e8a891"/>
<text x="637.3" y="494.0" font-size="13.4" text-anchor="middle" font-weight="bold" font-style="normal" fill="#000"  transform="translate(0,494.0) scale(1,1.09) translate(0,-494.0)">0.01</text>
<text x="716.8" y="463.6" font-size="15.6" text-anchor="middle" font-weight="bold" font-style="normal" fill="#000"  transform="translate(0,463.6) scale(1,1.09) translate(0,-463.6)">Prevent</text>
<path d="M760.3,469.5 L673.3,469.5" fill="none" stroke="#eab3a2" stroke-width="2.2"/>
<path d="M681.80,465.30 L673.3,469.5 L681.80,473.70" fill="none" stroke="#eab3a2" stroke-width="2.2" stroke-linecap="round" stroke-linejoin="miter"/>
<text x="718.3" y="487.2" font-size="13.4" text-anchor="middle" font-weight="bold" font-style="normal" fill="#000"  transform="translate(0,487.2) scale(1,1.09) translate(0,-487.2)">Noise &amp;</text>
<text x="719" y="502.8" font-size="13.5" text-anchor="middle" font-weight="bold" font-style="normal" fill="#000"  transform="translate(0,502.8) scale(1,1.09) translate(0,-502.8)">Trivial solutions</text>
<text x="832.2" y="462.1" font-size="15.6" text-anchor="middle" font-weight="bold" font-style="normal" fill="#000"  transform="translate(0,462.1) scale(1,1.09) translate(0,-462.1)">For negative scores</text>
<ellipse cx="799.5" cy="483.9" rx="25" ry="12.1" fill="#e8a891"/>
<text x="799.5" y="487.7" font-size="13.4" text-anchor="middle" font-weight="bold" font-style="normal" fill="#000"  transform="translate(0,487.7) scale(1,1.09) translate(0,-487.7)">0.13</text>
<ellipse cx="863.2" cy="484" rx="25.3" ry="12.1" fill="#e8a891"/>
<text x="863.2" y="487.7" font-size="13.4" text-anchor="middle" font-weight="bold" font-style="normal" fill="#000"  transform="translate(0,487.7) scale(1,1.09) translate(0,-487.7)">0.03</text>
<rect x="0" y="518.7" width="936" height="1.3" fill="#000"/>
</svg>
</body></html>
